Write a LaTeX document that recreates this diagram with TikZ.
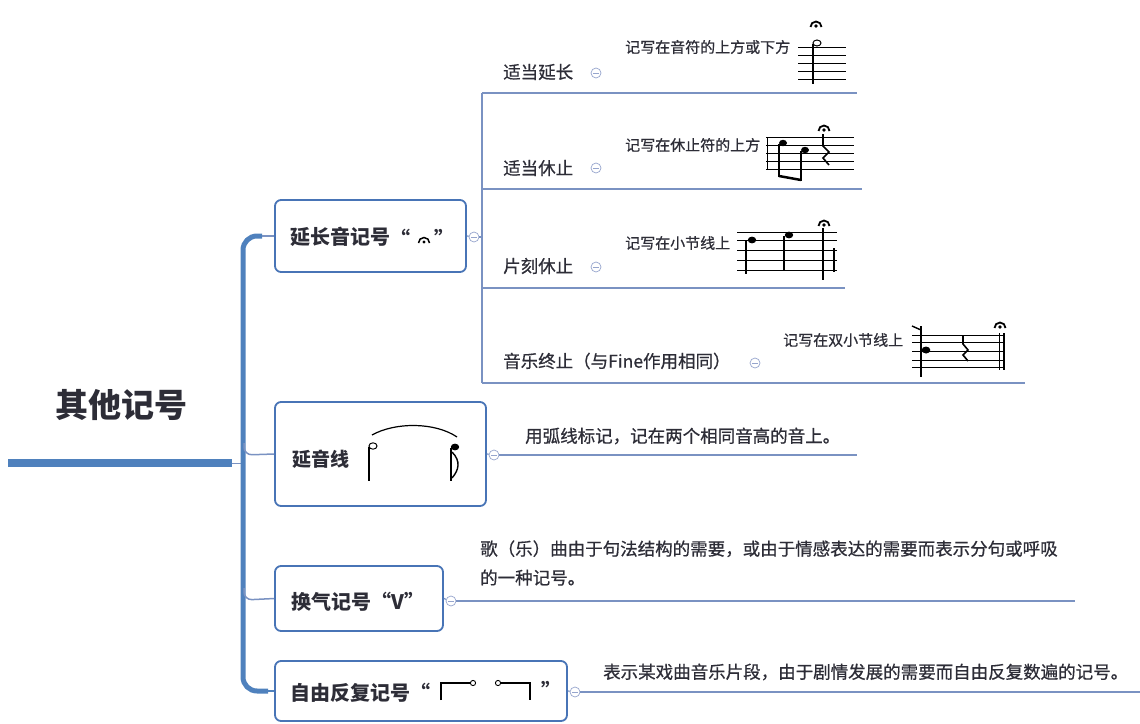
\documentclass[tikz,border=0pt]{standalone}
\usepackage{fontspec}
\setmainfont{Noto Sans CJK SC}
\newfontfamily\medfont[FakeBold=0.7]{Noto Sans CJK SC}
\definecolor{barblue}{RGB}{79,129,189}
\definecolor{boxblue}{RGB}{72,116,182}
\definecolor{linec}{RGB}{122,146,194}
\definecolor{txt}{RGB}{45,45,55}
\definecolor{togc}{RGB}{150,165,205}
\tikzset{
  ferm/.pic={\draw[line width=1.8pt] (-5.5,0) arc (180:360:5.5); \fill (0,-1) circle (1.8pt);},
  smallferm/.pic={\draw[line width=1.5pt] (-5.5,0) arc (180:360:5.5); \fill (0,-1) circle (1.6pt);}
}
\begin{document}
\begin{tikzpicture}[x=1pt,y=-1pt,
  box/.style={draw=boxblue, line width=1.8pt, rounded corners=6pt, fill=white, inner sep=0pt},
  lbl/.style={text=txt, font=\fontsize{20}{24}\selectfont\bfseries, inner sep=0pt, anchor=west},
  sublbl/.style={text=txt, font=\fontsize{17.5}{20}\selectfont\medfont, inner sep=0pt, anchor=west},
  desc/.style={text=txt, font=\fontsize{15}{18}\selectfont\medfont, inner sep=0pt, anchor=west},
  desctwo/.style={text=txt, font=\fontsize{17.5}{29}\selectfont\medfont, inner sep=0pt, anchor=west, align=left},
  conn/.style={draw=linec, line width=1.2pt},
  tog/.style={circle, draw=togc, line width=0.7pt, fill=white, minimum size=10pt, inner sep=0pt,
    path picture={\draw[togc, line width=0.7pt] ([xshift=-2.6pt]path picture bounding box.center) -- ([xshift=2.6pt]path picture bounding box.center);}},
  staffl/.style={line width=0.9pt},
  stem/.style={line width=1.1pt},
]
\useasboundingbox (0,0) rectangle (1140,723);

% title
\node[text=txt, font=\fontsize{33}{40}\selectfont\bfseries, inner sep=0pt] (title) at (121,405) {其他记号};
\coordinate (tbL) at (8,463);
\coordinate (tbR) at (232,463);
\coordinate (tbJ) at (243,463);
\draw[barblue, line width=8pt] (tbL) -- (tbR);
\draw[linec, line width=1pt] (tbR) -- (tbJ);

% main boxes
\node[box, minimum width=191pt, minimum height=72pt] (n1) at (370.5,236) {};
\node[box, minimum width=211pt, minimum height=104pt] (n2) at (380.5,454) {};
\node[box, minimum width=168pt, minimum height=65pt] (n3) at (359,598.5) {};
\node[box, minimum width=292pt, minimum height=60pt] (n4) at (421,691) {};

% main bar
\coordinate (bT) at (262,236);
\coordinate (bB) at (268,691);
\draw[barblue, line width=5pt, rounded corners=14pt] (bT) -- (243,236) -- (243,691) -- (bB);
\draw[conn, line width=1.5pt] (bT) -- (n1.west);
\draw[barblue, line width=2.5pt] (bB) -- (n4.west);
\draw[conn, line width=1.5pt, rounded corners=8pt] (244,443) -- (244,455) -- (n2.west);
\draw[conn, line width=1.5pt, rounded corners=8pt] (244,588) -- (244,600) -- (n3.west);

% labels in boxes
\node[lbl] (n1t) at (290,237) {延长音记号};
\node[lbl] (n1q1) at (390,238) {“};
\node[lbl] (n1q2) at (434,238) {”};
\pic at (424,243) {smallferm};

\node[lbl, font=\fontsize{19}{24}\selectfont\bfseries] (n2t) at (292,459) {延音线};
\node[lbl] (n3t) at (291,602) {换气记号“V”};
\node[lbl] (n4t) at (290,693) {自由反复记号“};
\node[lbl] (n4q) at (541,690) {”};

% tie drawing
\draw[line width=1pt] (373,446) ellipse (4 and 3.2);
\draw[stem] (369,447) -- (369,481);
\fill (455,447) ellipse (4.2 and 3.4);
\draw[stem] (451,448) -- (451,481);
\draw[line width=1.4pt] (452,452) .. controls (461,461) and (459,470) .. (452,478);
\draw[line width=1.2pt] (372,435) .. controls (395,422) and (435,422) .. (457,437);

% free repeat symbol
\draw[line width=1.1pt] (441,700) -- (441,683) -- (470,683);
\draw[line width=0.9pt] (473,683) circle (2.6);
\draw[line width=0.9pt] (498,683) circle (2.6);
\draw[line width=1.1pt] (501,683) -- (530,683) -- (530,700);

% toggles
\node[tog] (t1) at (474,237) {};
\node[tog] (t2) at (494,455) {};
\node[tog] (t3) at (451,601) {};
\node[tog] (t4) at (575,692) {};

% connectors from boxes
\coordinate (v1) at (482,237);
\coordinate (vT) at (482,93);
\coordinate (vB) at (482,383);
\draw[conn] (n1.east) -- (t1);
\draw[conn] (t1) -- (v1);
\draw[conn] (vT) -- (vB);
\coordinate (h1) at (857,93);
\coordinate (h2a) at (482,189);
\coordinate (h2) at (862,189);
\coordinate (h3a) at (482,288);
\coordinate (h3) at (845,288);
\coordinate (h4) at (1025,383);
\draw[conn] (vT) -- (h1);
\draw[conn] (h2a) -- (h2);
\draw[conn] (h3a) -- (h3);
\draw[conn] (vB) -- (h4);

\coordinate (e2) at (857,455);
\coordinate (e3) at (1075,601);
\coordinate (e4) at (1140,692);
\draw[conn] (n2.east) -- (t2);
\draw[conn] (t2) -- (e2);
\draw[conn] (n3.east) -- (t3);
\draw[conn] (t3) -- (e3);
\draw[conn] (n4.east) -- (t4);
\draw[conn] (t4) -- (e4);

% sub labels
\node[sublbl] (s1) at (503,72) {适当延长};
\node[sublbl] (s2) at (503,168) {适当休止};
\node[sublbl] (s3) at (503,266) {片刻休止};
\node[sublbl] (s4) at (503,361) {音乐终止（与Fine作用相同）};
\node[tog] (st1) at (596,73) {};
\node[tog] (st2) at (596,168) {};
\node[tog] (st3) at (596,267) {};
\node[tog] (st4) at (755,363) {};

\node[desc] (d1) at (625,47) {记写在音符的上方或下方};
\node[desc] (d2) at (625,145) {记写在休止符的上方};
\node[desc] (d3) at (625,243) {记写在小节线上};
\node[desc] (d4) at (783,340) {记写在双小节线上};

\node[desctwo] (dd2) at (525,436) {用弧线标记，记在两个相同音高的音上。};
\node[desctwo] (dd3) at (480,563) {歌（乐）曲由于句法结构的需要，或由于情感表达的需要而表示分句或呼吸\\的一种记号。};
\node[desctwo] (dd4) at (603,672) {表示某戏曲音乐片段，由于剧情发展的需要而自由反复数遍的记号。};

% music 1
\foreach \yy in {47,55,63,71,79} \draw[staffl] (798,\yy) -- (846,\yy);
\draw[line width=1pt] (817,43) ellipse (4 and 3);
\draw[stem] (813,44) -- (813,84);
\pic at (816,27) {ferm};

% music 2
\foreach \yy in {137,145,153,161,169} \draw[staffl] (766,\yy) -- (854,\yy);
\draw[staffl] (767,137) -- (767,169);
\fill (783,143) ellipse (4 and 3.2);
\draw[stem] (779,144) -- (779,177);
\fill (805,150) ellipse (4 and 3.2);
\draw[stem] (801,151) -- (801,181);
\draw[line width=2.5pt] (779,176) -- (801,180);
\draw[line width=1.6pt] (823,134) -- (823,146) -- (829,152) -- (823,158) -- (829,165);
\pic at (824,131) {ferm};

% music 3
\foreach \yy in {232,240,250,260,270} \draw[staffl] (737,\yy) -- (837,\yy);
\fill (752,240) ellipse (4.2 and 3.4);
\draw[stem] (746,241) -- (746,274);
\fill (789,235) ellipse (4.2 and 3.4);
\draw[stem] (784,236) -- (784,271);
\draw[line width=1.2pt] (823,228) -- (823,280);
\draw[stem] (834,248) -- (834,272);
\pic at (824,226) {ferm};

% music 4
\foreach \yy in {335,342,351,360,367} \draw[staffl] (912,\yy) -- (1004,\yy);
\fill (926,350) ellipse (4.3 and 3.5);
\draw[stem] (921,326) -- (921,377);
\draw[line width=1.4pt] (912,326) -- (921,330);
\draw[line width=1.6pt] (963,336) -- (963,344) -- (968,350) -- (963,355) -- (968,361);
\draw[line width=0.9pt] (999,333) -- (999,370);
\draw[line width=1.8pt] (1004,333) -- (1004,370);
\pic at (1000,328) {ferm};
\end{tikzpicture}
\end{document}
